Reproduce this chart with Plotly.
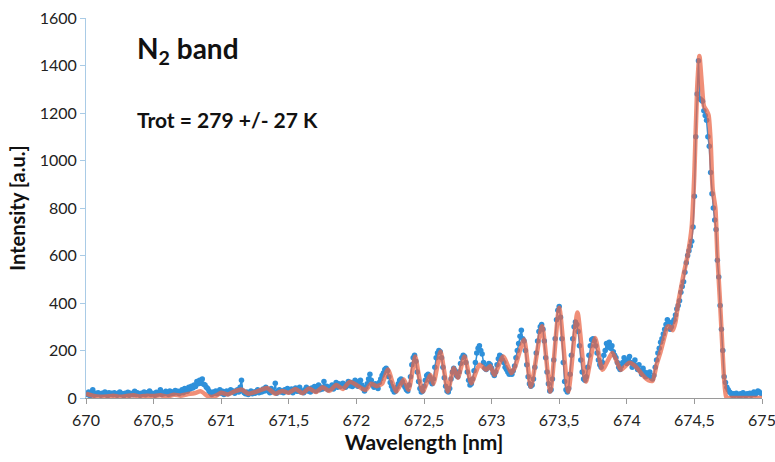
import numpy as np
import plotly.graph_objects as go

# ---- data ----
wl_start = 670.00
wl_step = 0.01
measured = [
    20, 15, 25, 10, 18, 35, 12, 20, 15, 22,
    18, 12, 20, 15, 25, 18, 10, 22, 16, 20,
    14, 22, 18, 12, 20, 25, 15, 18, 10, 20,
    16, 24, 12, 20, 18, 14, 28, 15, 22, 18,
    12, 20, 16, 25, 14, 22, 18, 30, 15, 20,
    18, 12, 24, 16, 20, 35, 15, 22, 18, 28,
    20, 15, 30, 18, 25, 20, 32, 22, 28, 18,
    25, 35, 22, 40, 30, 28, 45, 38, 50, 42,
    55, 48, 70, 60, 75, 62, 80, 58, 55, 45,
    40, 30, 22, 15, 25, 20, 30, 18, 22, 35,
    20, 28, 15, 25, 30, 18, 22, 35, 25, 30,
    20, 28, 35, 25, 45, 75, 30, 22, 18, 25,
    15, 22, 30, 18, 25, 20, 28, 35, 22, 30,
    25, 38, 30, 45, 35, 28, 22, 40, 30, 25,
    62, 20, 28, 35, 25, 30, 22, 35, 28, 40,
    25, 30, 38, 22, 35, 42, 28, 30, 45, 25,
    30, 22, 35, 45, 30, 38, 25, 42, 35, 48,
    30, 40, 55, 35, 45, 38, 70, 42, 50, 35,
    45, 40, 55, 38, 50, 65, 45, 60, 48, 55,
    62, 50, 45, 58, 70, 52, 65, 48, 55, 75,
    60, 50, 70, 75, 55, 40, 30, 45, 60, 80,
    100, 75, 55, 45, 60, 50, 40, 65, 80, 95,
    105, 120, 125, 115, 90, 65, 50, 35, 25, 30,
    45, 60, 75, 80, 70, 55, 45, 35, 30, 55,
    90, 140, 170, 180, 155, 110, 70, 40, 25, 30,
    50, 75, 95, 100, 90, 70, 60, 80, 130, 170,
    190, 200, 195, 170, 130, 85, 50, 30, 25, 40,
    80, 110, 125, 115, 95, 90, 110, 145, 170, 180,
    175, 150, 110, 75, 55, 60, 80, 115, 150, 190,
    210, 220, 200, 185, 150, 125, 120, 135, 145, 140,
    125, 105, 95, 110, 140, 165, 180, 175, 160, 150,
    130, 120, 110, 100, 110, 100, 115, 135, 170, 200,
    230, 260, 285, 250, 240, 200, 140, 90, 60, 50,
    55, 80, 130, 190, 240, 280, 300, 310, 290, 240,
    170, 110, 60, 30, 35, 80, 160, 250, 330, 370,
    385, 340, 250, 150, 70, 35, 25, 40, 100, 180,
    250, 300, 320, 310, 280, 220, 160, 110, 80, 75,
    90, 130, 180, 220, 245, 250, 240, 220, 190, 160,
    140, 130, 150, 180, 200, 230, 215, 235, 210, 220,
    195, 180, 170, 150, 130, 120, 135, 150, 170, 160,
    145, 160, 175, 150, 130, 145, 160, 135, 120, 140,
    115, 100, 125, 110, 90, 105, 95, 110, 85, 80,
    95, 130, 160, 190, 210, 235, 250, 270, 290, 310,
    330, 320, 290, 300, 320, 330, 350, 375, 390, 410,
    445, 470, 490, 530, 570, 600, 620, 640, 660, 720,
    850, 1100, 1280, 1420, 1260, 1255, 1250, 1210, 1190, 1170,
    1100, 1060, 950, 860, 800, 750, 710, 580, 510, 390,
    290, 200, 90, 65, 45, 35, 25, 20, 12, 18,
    12, 20, 15, 10, 18, 12, 22, 15, 10, 18,
    15, 20, 12, 18, 25, 15, 22, 30, 25, 20,
    18,
]
measured_wl = np.round(wl_start + wl_step * np.arange(len(measured)), 2)

fit_wl = [
    670.00, 670.05, 670.10, 670.15, 670.20, 670.25, 670.30, 670.35, 670.40, 670.45,
    670.50, 670.55, 670.60, 670.65, 670.70, 670.75, 670.80, 670.85, 670.90, 670.93,
    670.97, 671.00, 671.05, 671.10, 671.15, 671.20, 671.25, 671.30, 671.34, 671.40,
    671.45, 671.50, 671.55, 671.60, 671.65, 671.70, 671.75, 671.80, 671.85, 671.90,
    671.95, 672.00, 672.04, 672.07, 672.11, 672.15, 672.19, 672.233, 672.27, 672.295,
    672.33, 672.351, 672.386, 672.435, 672.46, 672.49, 672.548, 672.57, 672.622, 672.65,
    672.676, 672.72, 672.75, 672.80, 672.85, 672.91, 672.96, 672.99, 673.02, 673.085,
    673.146, 673.17, 673.24, 673.29, 673.373, 673.434, 673.50, 673.567, 673.635, 673.697,
    673.766, 673.82, 673.894, 673.956, 674.02, 674.07, 674.12, 674.16, 674.19, 674.22,
    674.25, 674.28, 674.30, 674.32, 674.34, 674.36, 674.38, 674.40, 674.42, 674.45,
    674.48, 674.50, 674.52, 674.537, 674.555, 674.57, 674.59, 674.605, 674.62, 674.635,
    674.655, 674.67, 674.69, 674.70, 674.72, 674.735, 674.75, 674.80, 674.90, 675.00,
]
fit_int = [
    18, 10, 5, 6, 10, 5, 8, 12, 6, 10,
    8, 12, 6, 14, 10, 16, 20, 28, 8, 4,
    12, 22, 15, 28, 36, 18, 25, 35, 42, 18,
    30, 22, 38, 20, 40, 25, 45, 30, 55, 38,
    68, 55, 40, 34, 60, 50, 60, 120, 60, 27,
    60, 78, 34, 175, 100, 27, 97, 60, 196, 110,
    27, 126, 85, 175, 62, 140, 119, 135, 97, 175,
    105, 125, 246, 48, 302, 27, 380, 27, 360, 69,
    253, 119, 189, 119, 148, 130, 95, 75, 72, 140,
    195, 260, 300, 300, 285, 320, 400, 460, 520, 600,
    720, 950, 1300, 1440, 1320, 1230, 1210, 1190, 1080, 880,
    800, 600, 400, 290, 80, 5, 0, 0, 0, 0,
]

x_tickvals = [670, 670.5, 671, 671.5, 672, 672.5, 673, 673.5, 674, 674.5, 675]
x_ticktext = ["670", "670,5", "671", "671,5", "672", "672,5", "673", "673,5", "674", "674,5", "675"]
y_tickvals = [0, 200, 400, 600, 800, 1000, 1200, 1400, 1600]

title_text = "N<sub>2</sub> band"
trot_text = "Trot = 279 +/- 27 K"

# ---- figure ----
FIG_W, FIG_H = 775, 462
M_L, M_R, M_T, M_B = 86, 13, 18, 64
plot_w = FIG_W - M_L - M_R
plot_h = FIG_H - M_T - M_B

fig = go.Figure()
fig.add_trace(go.Scatter(
    x=measured_wl, y=measured, mode="lines+markers",
    line=dict(color="#2e90da", width=1.5),
    marker=dict(color="#2e90da", size=5.5),
    showlegend=False,
))
fig.add_trace(go.Scatter(
    x=fit_wl, y=fit_int, mode="lines",
    line=dict(color="rgba(234,100,68,0.72)", width=4.5, shape="spline", smoothing=0.6),
    showlegend=False,
))

font_family = "Lato, 'Open Sans', sans-serif"
fig.update_layout(
    width=FIG_W, height=FIG_H,
    margin=dict(l=M_L, r=M_R, t=M_T, b=M_B),
    paper_bgcolor="white", plot_bgcolor="white",
    font=dict(family=font_family, color="#222222", size=16),
    hovermode=False,
)
fig.update_xaxes(
    range=[670, 675], tickvals=x_tickvals, ticktext=x_ticktext,
    showgrid=False, zeroline=False, automargin=False,
    ticklabeloverflow="allow", ticklabelstandoff=3,
    showline=True, linecolor="#9a9a9a", linewidth=1,
    ticks="outside", ticklen=5, tickcolor="#9a9a9a",
    tickfont=dict(size=16, color="#222222"),
    title=dict(text="<b>Wavelength [nm]</b>", font=dict(size=21, color="#111111"), standoff=6),
)
fig.update_yaxes(
    range=[0, 1600], tickvals=y_tickvals,
    showgrid=False, zeroline=False, automargin=False,
    ticklabeloverflow="allow",
    showline=True, linecolor="#a9cbe6", linewidth=1,
    ticks="outside", ticklen=5, tickcolor="#a9cbe6",
    tickfont=dict(size=16, color="#222222"),
    title=dict(text="<b>Intensity [a.u.]</b>", font=dict(size=20, color="#111111"), standoff=8),
)
fig.add_annotation(
    x=(135 - 86) / plot_w, y=(398 - 50) / plot_h, xref="paper", yref="paper",
    text=f"<b>{title_text}</b>",
    showarrow=False, xanchor="left", yanchor="middle",
    font=dict(size=28, color="#111111", family=font_family),
)
fig.add_annotation(
    x=(135 - 86) / plot_w, y=(398 - 120) / plot_h, xref="paper", yref="paper",
    text=f"<b>{trot_text}</b>",
    showarrow=False, xanchor="left", yanchor="middle",
    font=dict(size=21, color="#111111", family=font_family),
)

fig.write_html(
    "out.html",
    config={"displayModeBar": False},
    post_script="document.body.style.margin='0';document.body.style.overflow='hidden';",
)
